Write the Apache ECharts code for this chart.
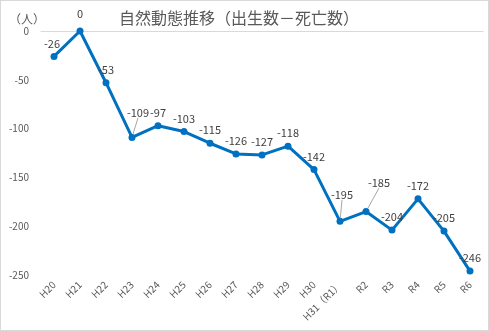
<!DOCTYPE html>
<html><head><meta charset="utf-8">
<script src="https://cdn.jsdelivr.net/npm/echarts@6/dist/echarts.min.js"></script>
<style>html,body{margin:0;padding:0;background:#fff}#c{width:487px;height:329px;border:1px solid #d9d9d9}</style>
</head><body><div id="c"></div>
<script>
const categories = ['H20','H21','H22','H23','H24','H25','H26','H27','H28','H29','H30','H31（R1）','R2','R3','R4','R5','R6'];
const values = [-26,0,-53,-109,-97,-103,-115,-126,-127,-118,-142,-195,-185,-204,-172,-205,-246];
const yTicks = [0,-50,-100,-150,-200,-250];
const titleText = '自然動態推移（出生数－死亡数）';
const unitText = '（人）';
// label nudges (px) for individual points
const labelShift = {0:[-2,0],1:[0,-4],3:[6,-12],11:[2,-14],12:[13,-16]};
const leader = {3:true,11:true,12:true};

const chart = echarts.init(document.getElementById('c'));
const font = '"Noto Sans CJK JP","Noto Sans",sans-serif';
chart.setOption({
  animation:false,
  title:[
    {text:titleText,left:233,top:4,textAlign:'center',textStyle:{fontFamily:font,fontSize:16,fontWeight:'normal',color:'#595959'}},
    {text:unitText,left:3,top:7,textStyle:{fontFamily:font,fontSize:12,fontWeight:'normal',color:'#595959'}}
  ],
  grid:{left:40,right:5,top:30,bottom:55},
  xAxis:[
    {type:'category',data:categories,position:'bottom',boundaryGap:true,
     axisLine:{show:false,onZero:false},axisTick:{show:false},
     axisLabel:{rotate:45,fontSize:10,color:'#595959',fontFamily:font,margin:8,interval:0}},
    {type:'category',data:categories,position:'top',
     axisLine:{show:true,onZero:false,lineStyle:{color:'#d9d9d9',width:1}},axisTick:{show:false},axisLabel:{show:false}}
  ],
  yAxis:{type:'value',min:-250,max:0,interval:50,
    axisLine:{show:false},axisTick:{show:false},splitLine:{show:false},
    axisLabel:{fontSize:10,color:'#595959',fontFamily:font,margin:12,
      formatter:v=>yTicks.includes(v)?String(v):''}},
  series:[{
    type:'line',data:values.map((v,i)=>({value:v,labelLine:{show:!!leader[i]}})),
    symbol:'circle',symbolSize:7,
    lineStyle:{color:'#0070C0',width:3},itemStyle:{color:'#0070C0'},
    label:{show:true,position:'top',distance:4,fontSize:11,color:'#404040',fontFamily:font},
    labelLine:{show:false,lineStyle:{color:'#a6a6a6',width:1}},
    labelLayout:function(p){const s=labelShift[p.dataIndex];return s?{dx:s[0],dy:s[1]}:{};}
  }]
});
</script></body></html>
